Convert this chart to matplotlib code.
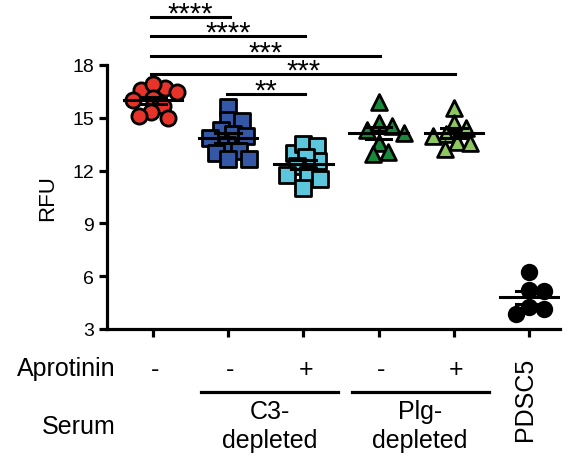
import numpy as np
import matplotlib
matplotlib.use('Agg')
import matplotlib.pyplot as plt

plt.rcParams['font.family'] = ['Liberation Sans', 'DejaVu Sans']

# values (RFU)
ctrl = [16.69, 16.47, 16.58, 16.92, 16.01, 16.12, 15.67, 15.33, 15.0, 15.1]
c3_minus = [15.61, 14.88, 14.82, 14.31, 14.08, 13.85, 13.97, 13.45, 13.0, 13.11, 12.66, 12.66]
c3_plus = [13.0, 13.51, 13.41, 12.56, 12.76, 12.24, 11.75, 11.52, 11.75, 11.0]
plg_minus = [15.92, 14.70, 14.32, 14.14, 14.52, 13.57, 12.94, 13.04]
plg_plus = [15.56, 14.69, 14.08, 14.42, 13.98, 13.61, 13.23, 13.55]
pdsc5 = [6.22, 5.18, 5.22, 4.23, 3.85, 4.14]

groups = [ctrl, c3_minus, c3_plus, plg_minus, plg_plus, pdsc5]
aprotinin = ['-', '-', '+', '-', '+']
serum_top = ['C3-', 'Plg-']
serum_bottom = ['depleted', 'depleted']
# (group a, group b, stars)
sig = [(0, 1, '****'), (0, 2, '****'), (0, 3, '***'), (0, 4, '***'), (1, 2, '**')]
sig_y = [20.73, 19.65, 18.51, 17.49, 16.35]

colors = ['#e8332a', '#3457a6', '#5cc7dc', '#178a3a', '#8dc75f', '#000000']
markers = ['o', 's', 's', '^', '^', 'o']
sizes = [120, 130, 130, 130, 130, 110]

fig = plt.figure(figsize=(5.74, 4.64), dpi=100)
ax = fig.add_axes([107 / 574, 1 - 330 / 464, (560 - 107) / 574, (330 - 66) / 464])
ax.set_xlim(-0.61, 5.41)
ax.set_ylim(3, 18)


def swarm(x0, vals, min_dist):
    """simple beeswarm in display coords, returns data x for each value"""
    trans = ax.transData
    pts = trans.transform(np.column_stack([np.full(len(vals), x0), vals]))
    order = np.argsort(vals)[::-1]
    placed = []
    xs = np.zeros(len(vals))
    cands = [0.0]
    for k in range(1, 40):
        cands += [k * 1.5, -k * 1.5]
    for i in order:
        y = pts[i, 1]
        c = 0.0
        for c in cands:
            ok = True
            for (px, py) in placed:
                if (pts[i, 0] + c - px) ** 2 + (y - py) ** 2 < min_dist ** 2:
                    ok = False
                    break
            if ok:
                break
        placed.append((pts[i, 0] + c, y))
        xs[i] = trans.inverted().transform((pts[i, 0] + c, y))[0]
    return xs


for i, vals in enumerate(groups):
    vals = np.array(vals)
    xs = swarm(i, vals, 12.5 if i < 5 else 15)
    ax.scatter(xs, vals, s=sizes[i], marker=markers[i], color=colors[i],
               edgecolor='black', linewidth=2, zorder=3, clip_on=False)
    m = vals.mean()
    sem = vals.std(ddof=1) / np.sqrt(len(vals))
    ax.plot([i - 0.39, i + 0.39], [m, m], color='black', lw=2.2, zorder=4)
    ax.plot([i, i], [m - sem, m + sem], color='black', lw=2.2, zorder=4)
    for e in (m - sem, m + sem):
        ax.plot([i - 0.17, i + 0.17], [e, e], color='black', lw=2.2, zorder=4)

for (a, b, stars), y in zip(sig, sig_y):
    ax.plot([a - 0.02, b + 0.02], [y, y], color='black', lw=2.2, clip_on=False)
    ax.text((a + b) / 2, y - 0.26, stars, ha='center', va='baseline', fontsize=21)

for s in ['top', 'right']:
    ax.spines[s].set_visible(False)
for s in ['left', 'bottom']:
    ax.spines[s].set_linewidth(2.3)
ax.set_yticks([3, 6, 9, 12, 15, 18])
ax.set_xticks(range(6))
ax.set_xticklabels([])
ax.tick_params(width=2.3, length=6, labelsize=14)
ax.set_ylabel('RFU', fontsize=16, labelpad=10)

# category annotations below the axis
tr = ax.get_xaxis_transform()
for i, sgn in enumerate(aprotinin):
    ax.text(i + 0.03, -0.15, sgn, transform=tr, ha='center', va='center', fontsize=18)
fig.text(116 / 574, 1 - 369 / 464, 'Aprotinin', ha='right', va='center', fontsize=18)
fig.text(116 / 574, 1 - 427 / 464, 'Serum', ha='right', va='center', fontsize=18)
for k in range(2):
    a, b = 1 + 2 * k, 2 + 2 * k
    ax.plot([a - 0.36, b + 0.46], [-0.239, -0.239], transform=tr, color='black',
            lw=2.3, clip_on=False)
    ax.text((a + b) / 2 + 0.05, -0.312, serum_top[k], transform=tr, ha='center',
            va='center', fontsize=18)
    ax.text((a + b) / 2 + 0.05, -0.422, serum_bottom[k], transform=tr, ha='center',
            va='center', fontsize=18)
ax.text(4.95, -0.262, 'PDSC5', transform=tr, ha='center', va='center', rotation=90,
        fontsize=18)

fig.savefig('out.png', dpi=100)
